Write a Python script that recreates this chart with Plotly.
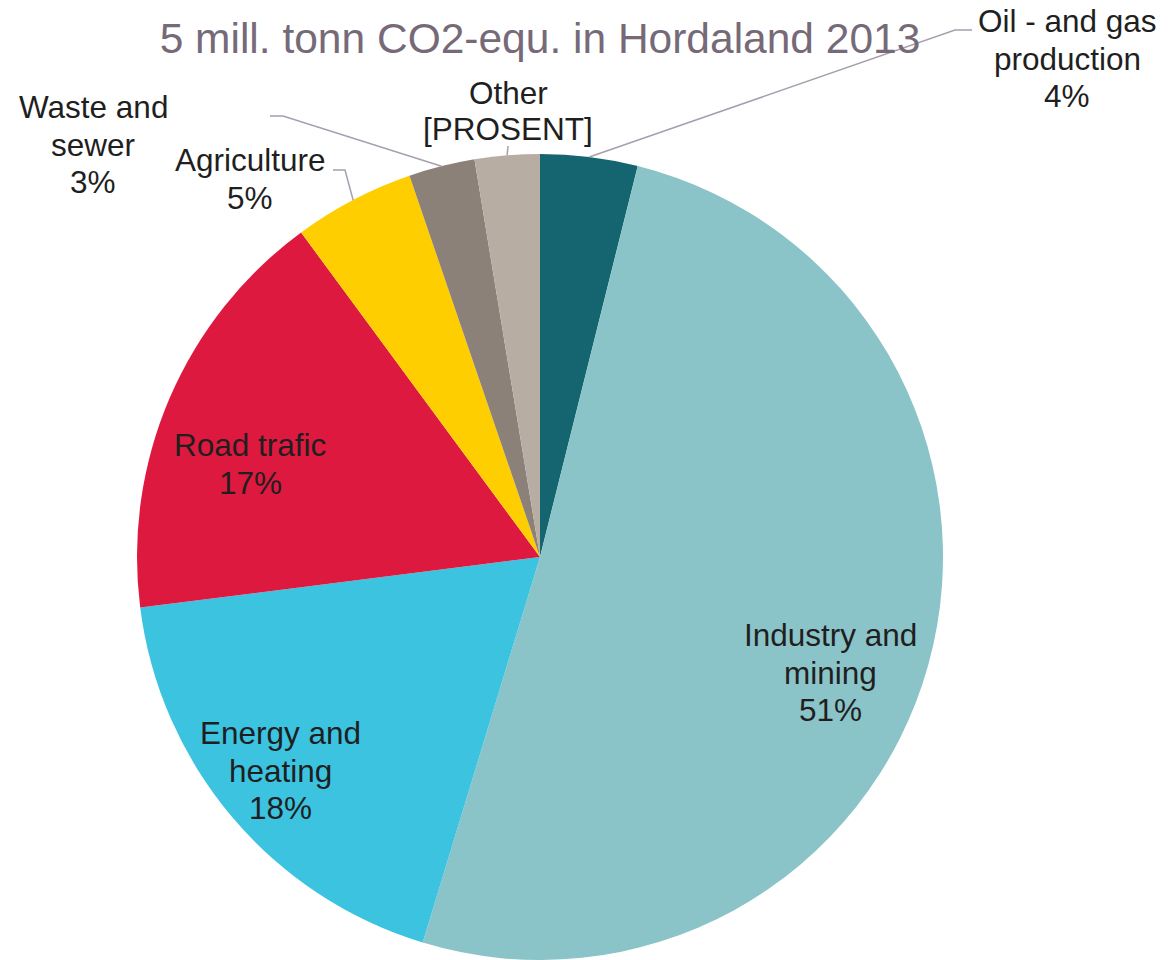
import math
import plotly.graph_objects as go

# ---- data ----
categories = ["Oil - and gas<br>production", "Industry and<br>mining", "Energy and<br>heating",
              "Road trafic", "Agriculture", "Waste and<br>sewer", "Other"]
values = [3.9, 50.8, 18.3, 16.9, 4.85, 2.65, 2.6]
pct_labels = ["{:.0f}%".format(round(v)) for v in values]
pct_labels[-1] = "[PROSENT]"
colors = ["#156570", "#8AC4C8", "#3BC3E0", "#DD1940", "#FFCE00", "#8C8178", "#B8ADA3"]
title_text = "5 mill. tonn CO2-equ. in Hordaland 2013"

W, H = 1168, 960
OFF = 8  # page body margin
CX, CY, R = 540, 557, 403  # pie centre / radius in window pixels

def px(x):
    return (x - OFF) / W

def py(y):
    return 1 - (y - OFF) / H

fig = go.Figure(go.Pie(
    labels=[c.replace("<br>", " ") for c in categories],
    values=values,
    marker=dict(colors=colors, line=dict(width=0)),
    sort=False,
    direction="clockwise",
    rotation=0,
    textinfo="none",
    hoverinfo="label+percent",
    domain=dict(x=[px(CX - R), px(CX + R)], y=[py(CY + R), py(CY - R)]),
    showlegend=False,
))

# label placement: centre x, first-line y (window pixels)
label_pos = [(1067, 21), (830, 635), (280, 733), (250, 445), (250, 160), (93, 107), (508, 93)]
LINE = 37.5
leader = {0: [(955, 30), (972, 30)], 4: [(345, 170), (333, 170)], 5: [(283, 116), (270, 116)],
          6: [(508, 146)]}

annotations = []
for i, (cat, pct) in enumerate(zip(categories, pct_labels)):
    x, y0 = label_pos[i]
    lines = cat.split("<br>") + [pct]
    step = 36 if i == 6 else LINE
    for k, ln in enumerate(lines):
        annotations.append(dict(
            x=px(x), y=py(y0 + k * step), xref="paper", yref="paper", text=ln,
            showarrow=False, xanchor="center", yanchor="middle", align="center",
            font=dict(family="Liberation Sans, Arial", size=31.5, color="#1F1F1F"),
        ))

shapes = []
total = sum(values)
cum = 0
for i, v in enumerate(values):
    mid = (cum + v / 2) / total * 2 * math.pi
    cum += v
    if i in leader:
        sx = CX + R * math.sin(mid)
        sy = CY - R * math.cos(mid)
        pts = [(sx, sy)] + leader[i]
        path = "M " + " L ".join("{:.5f},{:.5f}".format(px(a), py(b)) for a, b in pts)
        shapes.append(dict(type="path", path=path, xref="paper", yref="paper",
                           line=dict(color="#A89FAE", width=1.5)))

fig.update_layout(
    width=W, height=H,
    margin=dict(l=0, r=0, t=0, b=0),
    paper_bgcolor="white", plot_bgcolor="white",
    title=dict(text=title_text, x=px(540), y=py(38), xanchor="center", yanchor="middle",
               xref="paper", yref="paper",
               font=dict(family="Liberation Sans, Arial", size=42.5, color="#766A78")),
    annotations=annotations,
    shapes=shapes,
)

fig.write_html("out.html")
